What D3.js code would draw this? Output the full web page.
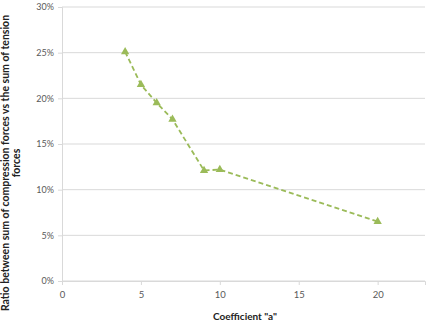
<!DOCTYPE html>
<html>
<head>
<meta charset="utf-8">
<script src="https://cdn.jsdelivr.net/npm/d3@7"></script>
<style>
  body { margin: 0; background: #fff; }
  text { font-family: Lato, "Open Sans", sans-serif; }
</style>
</head>
<body>
<svg id="chart" width="431" height="327"></svg>
<script>
// Values
const coefA = [4, 5, 6, 7, 9, 10, 20];
const ratio = [0.251, 0.215, 0.195, 0.177, 0.121, 0.122, 0.065];
const xTicks = [0, 5, 10, 15, 20];
const yTicks = [0, 0.05, 0.10, 0.15, 0.20, 0.25, 0.30];

const svg = d3.select('#chart');
const margin = { left: 62, right: 6, top: 7, bottom: 46 };
const width = 431, height = 327;

const x = d3.scaleLinear().domain([0, 23]).range([margin.left, width - margin.right]);
const y = d3.scaleLinear().domain([0, 0.30]).range([height - margin.bottom, margin.top]);

const grey = '#595959';
const green = '#9bbb59';

// Horizontal gridlines
svg.append('g')
  .selectAll('line')
  .data(yTicks)
  .join('line')
  .attr('x1', x(0))
  .attr('x2', x(23))
  .attr('y1', d => y(d))
  .attr('y2', d => y(d))
  .attr('stroke', '#d9d9d9')
  .attr('stroke-width', 1);

// Y axis
const yAxis = svg.append('g')
  .attr('transform', `translate(${x(0)},0)`)
  .call(d3.axisLeft(y).tickValues(yTicks).tickFormat(d3.format('.0%')).tickSize(4).tickPadding(4));
yAxis.select('.domain').attr('stroke', '#d9d9d9');
yAxis.selectAll('.tick line').attr('stroke', '#d9d9d9');
yAxis.selectAll('text').attr('fill', grey).style('font-size', '9px');

// X axis
const xAxis = svg.append('g')
  .attr('transform', `translate(0,${y(0)})`)
  .call(d3.axisBottom(x).tickValues(xTicks).tickSize(4).tickPadding(6));
xAxis.select('.domain').attr('stroke', '#d9d9d9');
xAxis.selectAll('.tick line').attr('stroke', '#d9d9d9');
xAxis.selectAll('text').attr('fill', grey).style('font-size', '9.5px');

// Series
const pts = coefA.map((a, i) => [a, ratio[i]]);
const line = d3.line().x(d => x(d[0])).y(d => y(d[1]));

svg.append('path')
  .datum(pts)
  .attr('d', line)
  .attr('fill', 'none')
  .attr('stroke', green)
  .attr('stroke-width', 1.8)
  .attr('stroke-dasharray', '5,3');

svg.append('g')
  .selectAll('path')
  .data(pts)
  .join('path')
  .attr('d', d3.symbol(d3.symbolTriangle, 30))
  .attr('transform', d => `translate(${x(d[0])},${y(d[1])})`)
  .attr('fill', green);

// Axis titles
svg.append('text')
  .attr('x', 245)
  .attr('y', 320)
  .attr('text-anchor', 'middle')
  .attr('font-weight', 'bold')
  .attr('fill', '#222')
  .style('font-size', '10px')
  .text('Coefficient "a"');

const yTitle = svg.append('text')
  .attr('transform', `translate(0,163) rotate(-90)`)
  .attr('text-anchor', 'middle')
  .attr('font-weight', 'bold')
  .attr('fill', '#222')
  .style('font-size', '10.5px');
yTitle.append('tspan').attr('x', 0).attr('y', 9)
  .text('Ratio between sum of compression forces vs the sum of tension');
yTitle.append('tspan').attr('x', 0).attr('y', 20).text('forces');
</script>
</body>
</html>
